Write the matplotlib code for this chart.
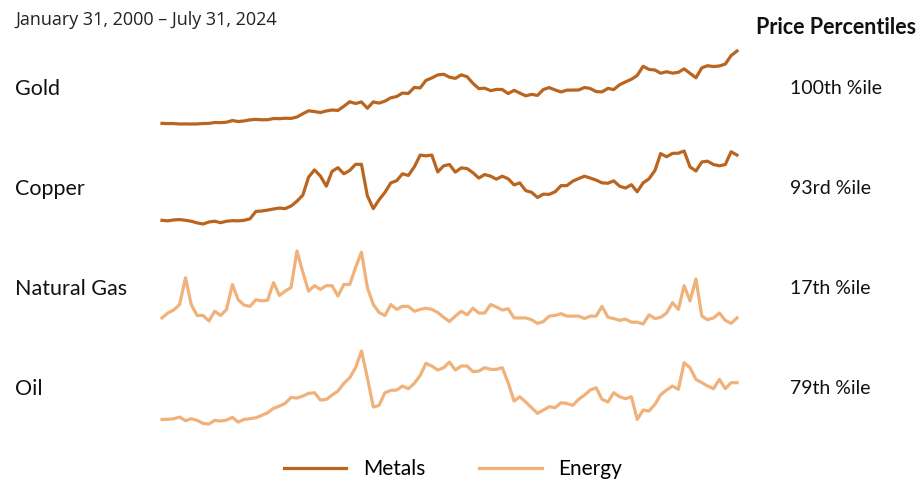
import numpy as np
import pandas as pd
import matplotlib
matplotlib.use("Agg")
import matplotlib.pyplot as plt
from matplotlib.lines import Line2D

# quarterly month-end observations, Jan 2000 .. Jul 2024
dates = pd.date_range("2000-01-31", "2024-07-31", freq="3ME")

# gold, $/oz
gold = [283, 276, 277, 264,
        266, 264, 266, 279,
        282, 308, 304, 317,
        367, 337, 355, 386,
        400, 389, 391, 426,
        422, 435, 430, 470,
        568, 654, 632, 604,
        650, 679, 666, 789,
        923, 871, 918, 730,
        919, 883, 940, 1040,
        1078, 1180, 1169, 1346,
        1332, 1556, 1628, 1717,
        1738, 1652, 1615, 1720,
        1664, 1469, 1314, 1324,
        1251, 1288, 1285, 1164,
        1260, 1180, 1098, 1142,
        1111, 1285, 1342, 1272,
        1212, 1266, 1269, 1271,
        1345, 1316, 1224, 1215,
        1319, 1283, 1427, 1511,
        1589, 1702, 1975, 1879,
        1863, 1768, 1812, 1770,
        1795, 1897, 1765, 1633,
        1929, 1990, 1965, 1983,
        2040, 2290, 2426]

# copper, $/lb
copper = [0.80, 0.77, 0.82, 0.84,
          0.80, 0.75, 0.66, 0.60,
          0.71, 0.75, 0.67, 0.75,
          0.78, 0.77, 0.80, 0.88,
          1.28, 1.30, 1.35, 1.41,
          1.46, 1.43, 1.57, 1.83,
          2.16, 3.13, 3.52, 3.19,
          2.64, 3.44, 3.64, 3.31,
          3.49, 3.82, 3.82, 2.12,
          1.43, 1.90, 2.31, 2.82,
          2.94, 3.31, 3.22, 3.68,
          4.32, 4.28, 4.32, 3.41,
          3.74, 3.81, 3.40, 3.63,
          3.59, 3.37, 3.08, 3.27,
          3.18, 3.02, 3.18, 3.04,
          2.71, 2.82, 2.40, 2.31,
          2.03, 2.21, 2.20, 2.34,
          2.67, 2.67, 2.91, 3.05,
          3.18, 3.08, 2.97, 2.82,
          2.80, 2.93, 2.64, 2.54,
          2.72, 2.34, 2.82, 3.04,
          3.49, 4.40, 4.23, 4.41,
          4.42, 4.54, 3.68, 3.46,
          3.95, 3.99, 3.81, 3.74,
          3.81, 4.50, 4.32]

# natural gas, $/MMBtu
natural_gas = [2.4, 3.2, 3.7, 4.6,
               9.0, 4.6, 2.8, 2.8,
               1.9, 3.5, 2.8, 3.8,
               7.9, 5.4, 4.5, 4.3,
               5.4, 5.2, 5.3, 8.2,
               6.1, 6.8, 7.4, 13.4,
               9.9, 6.8, 7.7, 7.1,
               7.7, 7.7, 6.0, 7.9,
               7.9, 10.7, 13.2, 7.4,
               4.6, 3.3, 2.8, 4.6,
               3.8, 4.3, 4.3, 3.5,
               3.8, 4.0, 3.8, 3.3,
               2.5, 1.8, 2.7, 3.5,
               2.9, 4.0, 3.2, 3.2,
               4.6, 4.2, 3.7, 3.9,
               2.4, 2.4, 2.4, 2.1,
               1.5, 1.8, 2.7, 2.8,
               3.1, 2.7, 2.7, 2.7,
               2.3, 2.7, 2.7, 4.3,
               2.5, 2.3, 2.0, 2.2,
               1.7, 1.7, 1.4, 2.9,
               2.3, 2.5, 3.2, 4.9,
               3.8, 7.7, 5.2, 8.8,
               2.7, 2.1, 2.4, 3.2,
               2.0, 1.5, 2.4]

# WTI crude, $/bbl
oil = [24.7, 24.7, 25.8, 28.6,
       22.4, 25.8, 23.0, 18.0,
       17.0, 23.0, 21.9, 23.6,
       28.0, 20.2, 24.7, 25.8,
       27.4, 31.3, 35.8, 43.0,
       46.9, 51.3, 61.3, 60.2,
       63.6, 68.0, 69.1, 56.9,
       58.0, 65.2, 71.9, 84.7,
       94.1, 110.8, 138.6, 94.1,
       45.2, 48.0, 69.1, 73.0,
       73.6, 80.2, 75.8, 84.7,
       98.0, 118.0, 113.6, 106.9,
       110.8, 120.2, 106.9, 113.6,
       113.6, 104.1, 105.2, 110.8,
       108.0, 108.0, 110.8, 85.8,
       55.2, 62.4, 53.6, 44.1,
       34.7, 40.2, 45.8, 44.1,
       52.4, 51.3, 48.0, 58.0,
       65.2, 73.6, 77.4, 58.0,
       53.6, 69.1, 62.4, 59.1,
       62.4, 24.7, 40.2, 38.6,
       49.7, 65.8, 73.6, 80.2,
       74.7, 119.1, 110.8, 91.3,
       85.8, 80.2, 75.8, 91.3,
       75.8, 85.8, 85.8]

names = ["Gold", "Copper", "Natural Gas", "Oil"]
series = [gold, copper, natural_gas, oil]
groups = ["Metals", "Metals", "Energy", "Energy"]
percentiles = ["100th %ile", "93rd %ile", "17th %ile", "79th %ile"]

colors = {"Metals": "#B9651F", "Energy": "#F0B27A"}
plt.rcParams["font.family"] = ["Lato", "DejaVu Sans"]

W, H = 919, 480
fig = plt.figure(figsize=(W / 100, H / 100), dpi=100)

def fx(px):
    return px / W

def fy(py):
    return 1 - py / H

# one strip per commodity, each scaled to its own range
for i, (name, vals, grp, pct) in enumerate(zip(names, series, groups, percentiles)):
    top, bottom = 51 + 100 * i, 124 + 100 * i
    ax = fig.add_axes([fx(162), fy(bottom), fx(737) - fx(162), (bottom - top) / H])
    v = np.array(vals, dtype=float)
    ax.plot(dates, v, color=colors[grp], lw=2.3, solid_joinstyle="round", clip_on=False)
    ax.set_xlim(dates[0], dates[-1])
    ax.set_ylim(v.min(), v.max())
    ax.axis("off")
    fig.text(fx(15), fy(89 + 100 * i), name, fontsize=15.5, va="center", ha="left", color="#111111")
    fig.text(fx(790), fy(89 + 100 * i), pct, fontsize=14, va="center", ha="left", color="#111111")

fig.text(fx(15), fy(20), "January 31, 2000 \u2013 July 31, 2024", fontsize=13,
         family=["Open Sans", "DejaVu Sans"], va="center", ha="left", color="#222222")
fig.text(fx(916), fy(27), "Price Percentiles", fontsize=15.5, fontweight="bold",
         va="center", ha="right", color="#111111")

handles = [Line2D([], [], color=colors[g], lw=2.3) for g in ["Metals", "Energy"]]
fig.legend(handles, ["Metals", "Energy"], loc="center", bbox_to_anchor=(fx(453), fy(469)),
           ncol=2, frameon=False, fontsize=15, handlelength=3.0, columnspacing=2.6,
           handletextpad=0.8)

fig.savefig("out.png", dpi=100)
